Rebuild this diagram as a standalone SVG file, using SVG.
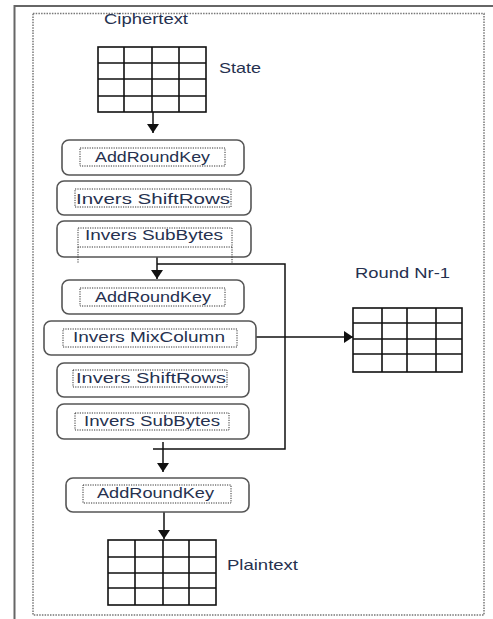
<svg xmlns="http://www.w3.org/2000/svg" width="493" height="619" viewBox="0 0 493 619">
<defs>
<style>
.lbl{font-family:"Liberation Sans",Arial,sans-serif;font-size:15px;fill:#26314f;}
.box{fill:#fff;stroke:#555;stroke-width:1.6;}
.inner{fill:none;stroke:#333;stroke-width:1;stroke-dasharray:1.2,1.2;}
.grid{fill:none;stroke:#111;stroke-width:1.6;}
.wire{fill:none;stroke:#111;stroke-width:1.5;}
</style>
<marker id="ah" viewBox="0 0 10 10" refX="10" refY="5" markerWidth="9" markerHeight="12" preserveAspectRatio="none" markerUnits="userSpaceOnUse" orient="auto">
<path d="M0,0 L10,5 L0,10 Z" fill="#111"/>
</marker>
</defs>
<rect width="493" height="619" fill="#fff"/>
<g id="frame">
<path d="M14.5,619 V6 H493" fill="none" stroke="#666" stroke-width="2"/>
<rect x="33" y="13.5" width="451" height="601.5" fill="none" stroke="#777" stroke-width="1.5" stroke-dasharray="1.5,1.2"/>
</g>
<g id="connectors">
<line class="wire" x1="153" y1="112" x2="153" y2="133" marker-end="url(#ah)"/>
<line class="wire" x1="157" y1="257" x2="157" y2="279" marker-end="url(#ah)"/>
<path class="wire" d="M157,264 H285 V449 H153"/>
<line class="wire" x1="163" y1="442" x2="163" y2="472" marker-end="url(#ah)"/>
<line class="wire" x1="164" y1="512" x2="164" y2="539" marker-end="url(#ah)"/>
<line class="wire" x1="256" y1="337" x2="353" y2="337" marker-end="url(#ah)"/>
</g>
<g id="ciphertext">
<text class="lbl" x="104" y="24" textLength="84" lengthAdjust="spacingAndGlyphs">Ciphertext</text>
</g>
<g id="state">
<rect class="grid" x="98" y="47" width="108" height="65"/>
<path class="grid" d="M124,47 V112 M152,47 V112 M179,47 V112 M98,63 H206 M98,79 H206 M98,96 H206"/>
<text class="lbl" x="219" y="73" textLength="42" lengthAdjust="spacingAndGlyphs">State</text>
</g>
<g id="addroundkey1">
<rect class="box" x="62" y="140" width="182" height="35" rx="7"/>
<rect class="inner" x="80" y="148" width="145" height="18"/>
<text class="lbl" x="95" y="162" textLength="115" lengthAdjust="spacingAndGlyphs">AddRoundKey</text>
</g>
<g id="shiftrows1">
<rect class="box" x="57" y="181" width="194" height="34" rx="7"/>
<rect class="inner" x="75" y="189" width="156" height="18"/>
<text class="lbl" x="76" y="204" textLength="154" lengthAdjust="spacingAndGlyphs">Invers ShiftRows</text>
</g>
<g id="subbytes1">
<rect class="box" x="57" y="221" width="194" height="36" rx="7"/>
<rect class="inner" x="78" y="228" width="154" height="19"/>
<path class="inner" d="M78,247 V263 M232,247 V263"/>
<text class="lbl" x="85" y="240" textLength="138" lengthAdjust="spacingAndGlyphs">Invers SubBytes</text>
</g>
<g id="addroundkey2">
<rect class="box" x="62" y="280" width="182" height="34" rx="7"/>
<rect class="inner" x="80" y="288" width="145" height="18"/>
<text class="lbl" x="95" y="302" textLength="116" lengthAdjust="spacingAndGlyphs">AddRoundKey</text>
</g>
<g id="mixcolumn">
<rect class="box" x="44" y="321" width="212" height="34" rx="7"/>
<rect class="inner" x="63" y="329" width="174" height="18"/>
<text class="lbl" x="73" y="342" textLength="152" lengthAdjust="spacingAndGlyphs">Invers MixColumn</text>
</g>
<g id="shiftrows2">
<rect class="box" x="57" y="363" width="192" height="34" rx="7"/>
<rect class="inner" x="73" y="370" width="154" height="17"/>
<text class="lbl" x="76" y="383" textLength="150" lengthAdjust="spacingAndGlyphs">Invers ShiftRows</text>
</g>
<g id="subbytes2">
<rect class="box" x="57" y="404" width="192" height="35" rx="7"/>
<rect class="inner" x="75" y="413" width="154" height="17"/>
<text class="lbl" x="84" y="426" textLength="136" lengthAdjust="spacingAndGlyphs">Invers SubBytes</text>
</g>
<g id="roundnr">
<text class="lbl" x="355" y="278" textLength="95" lengthAdjust="spacingAndGlyphs">Round Nr-1</text>
<rect class="grid" x="353" y="308" width="109" height="64"/>
<path class="grid" d="M382,308 V372 M407,308 V372 M436,308 V372 M353,323 H462 M353,339 H462 M353,354 H462"/>
</g>
<g id="addroundkey3">
<rect class="box" x="66" y="478" width="183" height="34" rx="7"/>
<rect class="inner" x="83" y="485" width="148" height="18"/>
<text class="lbl" x="97" y="498" textLength="117" lengthAdjust="spacingAndGlyphs">AddRoundKey</text>
</g>
<g id="plaintext">
<rect class="grid" x="108" y="540" width="108" height="65"/>
<path class="grid" d="M135,540 V605 M163,540 V605 M189,540 V605 M108,557 H216 M108,573 H216 M108,588 H216"/>
<text class="lbl" x="227" y="570" textLength="71" lengthAdjust="spacingAndGlyphs">Plaintext</text>
</g>
</svg>
